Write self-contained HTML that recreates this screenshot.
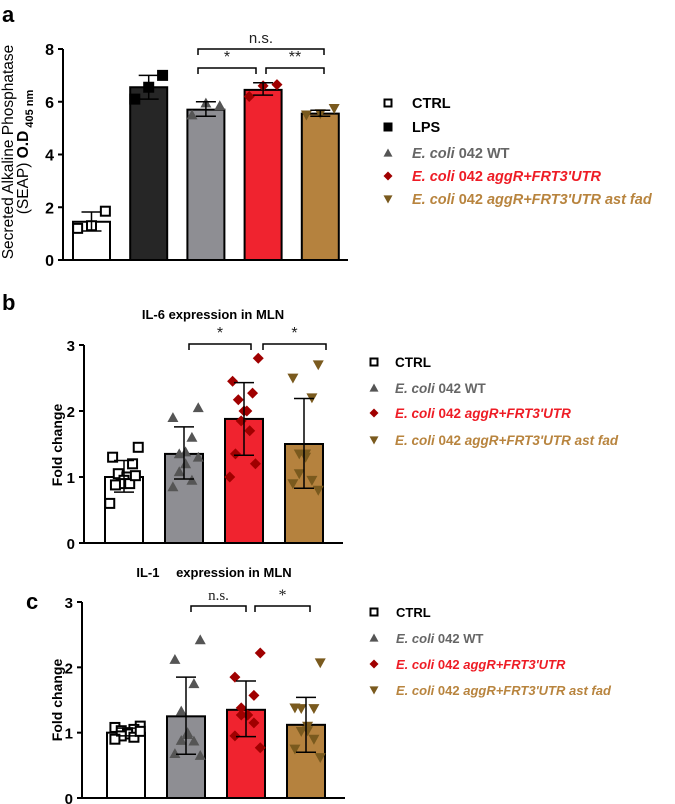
<!DOCTYPE html>
<html><head><meta charset="utf-8"><style>
body{margin:0;background:#fff}
svg{display:block;font-family:"Liberation Sans",Arial,sans-serif}
</style></head><body>
<svg id="fig" width="675" height="804" viewBox="0 0 675 804"></svg>
<script>
// ---- Panel a data
const catsA = ["CTRL","LPS","WT","aggR","astfad"];
const meansA = [1.45, 6.55, 5.7, 6.45, 5.55];
const errHiA = [1.82, 7.0, 6.0, 6.72, 5.68];
const errLoA = [1.1, 6.1, 5.45, 6.25, 5.45];
const ptsA = [[1.85,1.3,1.2],[7.0,6.55,6.1],[5.85,5.95,5.5],[6.65,6.6,6.2],[5.75,5.55,5.5]];
const ticksA = [0,2,4,6,8];
// ---- Panel b data
const catsB = ["CTRL","WT","aggR","astfad"];
const meansB = [1.0, 1.35, 1.88, 1.5];
const errHiB = [1.25, 1.76, 2.43, 2.19];
const errLoB = [0.77, 0.97, 1.33, 0.83];
const ptsB = [[1.45,1.3,1.2,1.05,1.0,0.95,0.9,0.9,0.88,1.02,0.6],
 [2.05,1.9,1.6,1.35,1.38,1.2,1.08,0.95,0.85,1.3],
 [2.8,2.45,2.27,2.17,2.0,2.0,1.85,1.7,1.35,1.2,1.0],
 [2.7,2.5,2.2,1.35,1.35,1.3,1.05,0.95,0.9,0.8]];
const ticksB = [0,1,2,3];
// ---- Panel c data
const meansC = [1.0, 1.25, 1.35, 1.12];
const errHiC = [1.07, 1.85, 1.79, 1.54];
const errLoC = [0.95, 0.67, 0.94, 0.7];
const ptsC = [[1.1,1.08,1.05,1.03,1.0,0.98,0.95,0.93,0.9,1.02],
 [2.42,2.12,1.75,1.33,1.0,0.97,0.88,0.87,0.68,0.65],
 [2.22,1.85,1.57,1.38,1.27,1.27,1.27,1.15,0.95,0.77],
 [2.07,1.38,1.37,1.37,1.1,1.03,1.02,0.9,0.75,0.62]];
const ticksC = [0,1,2,3];

const NS="http://www.w3.org/2000/svg";
const svg=document.getElementById('fig');
const S={CTRL:{fill:"#fff",mk:"#000",shape:"osq"},LPS:{fill:"#262626",mk:"#000",shape:"sq"},
 WT:{fill:"#8e8e93",mk:"#555",shape:"tri"},aggR:{fill:"#f0232f",mk:"#a00000",shape:"dia"},
 astfad:{fill:"#b5823e",mk:"#7a5a1e",shape:"itri"}};
function mk(tag,attrs,parent){const e=document.createElementNS(NS,tag);for(const k in attrs)e.setAttribute(k,attrs[k]);(parent||svg).appendChild(e);return e;}
function marker(shape,col,cx,cy,s,g){
 let e;
 if(shape=="osq")e=mk('rect',{x:cx-s+1,y:cy-s+1,width:2*s-2,height:2*s-2,fill:"#fff",stroke:col,"stroke-width":2},g);
 else if(shape=="sq")e=mk('rect',{x:cx-s,y:cy-s,width:2*s,height:2*s,fill:col},g);
 else if(shape=="tri")e=mk('polygon',{points:`${cx},${cy-s} ${cx+s},${cy+s*0.8} ${cx-s},${cy+s*0.8}`,fill:col},g);
 else if(shape=="itri")e=mk('polygon',{points:`${cx},${cy+s} ${cx+s},${cy-s*0.8} ${cx-s},${cy-s*0.8}`,fill:col},g);
 else e=mk('polygon',{points:`${cx},${cy-s} ${cx+s},${cy} ${cx},${cy+s} ${cx-s},${cy}`,fill:col},g);
 return e;
}
function txt(x,y,s,attrs,parent){const t=mk('text',Object.assign({x:x,y:y},attrs),parent);t.textContent=s;return t;}

function panel(opt){
 const g=mk('g',{});
 
 
 const yS=v=>opt.y0-(v/opt.max)*(opt.y0-opt.yTop);
 const ax=mk('g',{},g);
 
 
 mk('line',{x1:opt.ax,y1:opt.yTop,x2:opt.ax,y2:opt.y0,stroke:"#000","stroke-width":2},ax);
 mk('line',{x1:opt.ax,y1:opt.y0,x2:opt.axEnd,y2:opt.y0,stroke:"#000","stroke-width":2},g);
 opt.ticks.forEach(t=>{
  mk('line',{x1:opt.ax-5,y1:yS(t),x2:opt.ax,y2:yS(t),stroke:"#000","stroke-width":2},ax);
  const l=txt(opt.ax-9,yS(t)+6,String(t),{"text-anchor":"end","font-size":opt.tfs,"font-weight":"bold"},ax);
  
  
 });
 opt.cats.forEach((c,i)=>{
  const st=S[c];const x=opt.bx0+i*opt.step;const cx=x+opt.bw/2;
  const b=mk('rect',{x:x,y:yS(opt.means[i]),width:opt.bw,height:opt.y0-yS(opt.means[i]),fill:st.fill,stroke:"#000","stroke-width":2},g);
  
  
  const n=opt.pts[i].length;
  opt.pts[i].forEach((v,j)=>{
   const off=(j/(Math.max(n-1,1))-0.5)*opt.bw*0.75*((j%2)?1:-1);
   const m=marker(st.shape,st.mk,cx+off,yS(v),opt.ms,g);
   
   
  });
  const e=mk('g',{},g);
  
  
  mk('line',{x1:cx,y1:yS(opt.hi[i]),x2:cx,y2:yS(opt.lo[i]),stroke:"#000","stroke-width":1.5},e);
  mk('line',{x1:cx-10,y1:yS(opt.hi[i]),x2:cx+10,y2:yS(opt.hi[i]),stroke:"#000","stroke-width":1.5},e);
  mk('line',{x1:cx-10,y1:yS(opt.lo[i]),x2:cx+10,y2:yS(opt.lo[i]),stroke:"#000","stroke-width":1.5},e);
 });
 opt.brackets.forEach(b=>{
  const x1=b[0],x2=b[1];const y=b[2];
  const bg=mk('g',{},g);
  
  
  mk('path',{d:`M${x1},${y+6}V${y}H${x2}V${y+6}`,fill:"none",stroke:"#000","stroke-width":1.5},bg);
  txt((x1+x2)/2,y-6,b[3],{"text-anchor":"middle","font-size":b[3]=="n.s."?15:16,fill:"#222","font-family":b[4]||"Liberation Sans, sans-serif"},bg);
 });
 return g;
}
panel({name:'panel-a-chart',cats:catsA,means:meansA,hi:errHiA,lo:errLoA,pts:ptsA,ticks:ticksA,max:8,y0:260,yTop:49,ax:63,axEnd:348,bx0:73,step:57.2,bw:37,ms:5.5,tfs:16,
 brackets:[[198,324,49,"n.s."],[198,256,68,"*"],[266,324,68,"**"]]});
panel({name:'panel-b-chart',cats:catsB,means:meansB,hi:errHiB,lo:errLoB,pts:ptsB,ticks:ticksB,max:3,y0:543,yTop:345,ax:84,axEnd:343,bx0:105,step:60,bw:38,ms:5.5,tfs:15,
 brackets:[[189,251,344,"*"],[263,326,344,"*"]]});
panel({name:'panel-c-chart',cats:catsB,means:meansC,hi:errHiC,lo:errLoC,pts:ptsC,ticks:ticksC,max:3,y0:798,yTop:602,ax:82,axEnd:345,bx0:107,step:60,bw:38,ms:5.5,tfs:15,
 brackets:[[191,246,606,"n.s.","Liberation Serif, serif"],[255,310,606,"*","Liberation Serif, serif"]]});

let t;
t=txt(2,22,"a",{"font-size":22,"font-weight":"bold"});
t=txt(2,310,"b",{"font-size":22,"font-weight":"bold"});
t=txt(26,609,"c",{"font-size":22,"font-weight":"bold"});
const ya=mk('text',{transform:"translate(13,152) rotate(-90)","text-anchor":"middle","font-size":15.5});

ya.textContent='Secreted Alkaline Phosphatase';
const ya2=mk('text',{transform:"translate(28,152) rotate(-90)","text-anchor":"middle","font-size":15.5});

ya2.innerHTML='(SEAP) <tspan font-weight="bold">O.D</tspan><tspan font-weight="bold" font-size="11" dy="5"> 405 nm</tspan>';
t=mk('text',{transform:"translate(62,445) rotate(-90)","text-anchor":"middle","font-size":14,"font-weight":"bold"});t.textContent="Fold change";
t=mk('text',{transform:"translate(62,700) rotate(-90)","text-anchor":"middle","font-size":14,"font-weight":"bold"});t.textContent="Fold change";
t=txt(213,319,"IL-6 expression in MLN",{"text-anchor":"middle","font-size":13,"font-weight":"bold"});
t=txt(214,577,"IL-1\u2003 expression in MLN",{"text-anchor":"middle","font-size":13,"font-weight":"bold"});

const legA=[["CTRL","#000",'CTRL'],["LPS","#000",'LPS'],["WT","#666",'<tspan font-style="italic">E. coli</tspan> 042 WT'],
 ["aggR","#ee1c25",'<tspan font-style="italic">E. coli</tspan> 042 <tspan font-style="italic">aggR+FRT3\'UTR</tspan>'],
 ["astfad","#b8843e",'<tspan font-style="italic">E. coli</tspan> 042 <tspan font-style="italic">aggR+FRT3\'UTR ast fad</tspan>']];
function legend(items,x0,tx,ys,fs,name){
 const g=mk('g',{});
 items.forEach((it,i)=>{
  const e=mk('g',{},g);
  marker(S[it[0]].shape,S[it[0]].mk,x0,ys[i]-5,4.5,e);
  const tt=mk('text',{x:tx,y:ys[i],"font-size":fs,"font-weight":"bold",fill:it[1]},e);tt.innerHTML=it[2];
 });
}
legend(legA,388,412,[108,132,158,181,204],14.5,'legend-a');
const legB=[legA[0],legA[2],legA[3],legA[4]];
legend(legB,374,395,[367,393,418,445],13.5,'legend-b');
legend(legB,374,396,[617,643,669,695],13,'legend-c');
</script>
</body></html>
